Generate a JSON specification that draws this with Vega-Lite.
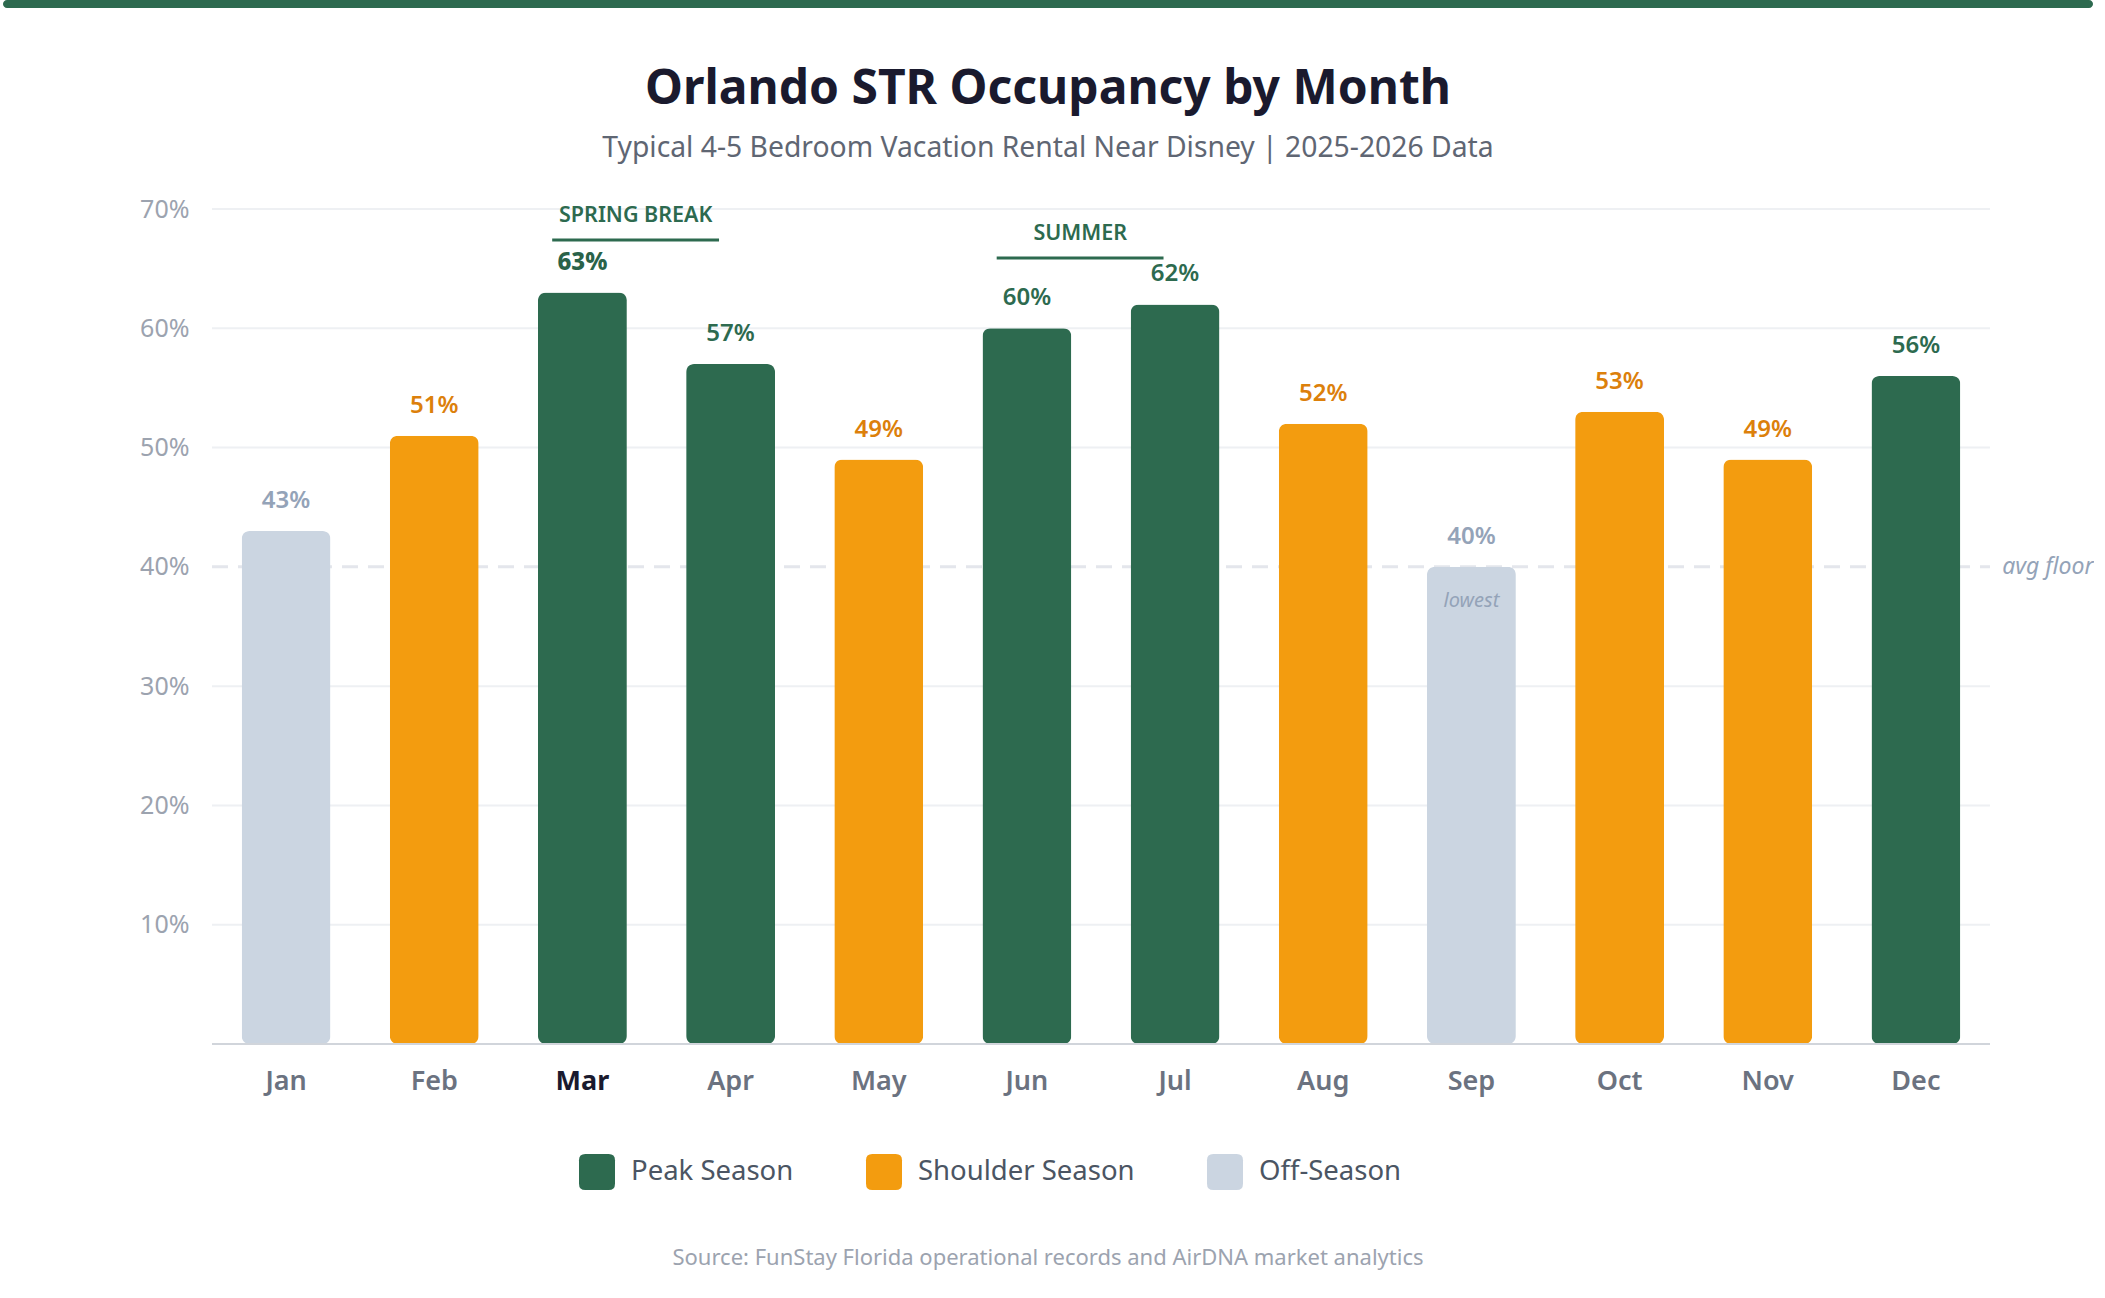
{
  "$schema": "https://vega.github.io/schema/vega-lite/v6.json",
  "padding": {"left": 3, "right": 0, "top": 0, "bottom": 30},
  "background": "white",
  "spacing": 57,
  "resolve": {"scale": {"color": "independent"}, "legend": {"color": "independent"}},
  "config": {
    "view": {"stroke": null},
    "font": "Noto Sans"
  },
  "vconcat": [
    {
      "width": 2090,
      "height": 8,
      "data": {"values": [{"part": "header band"}]},
      "mark": {"type": "rect", "color": "#2d6a4f", "cornerRadius": 4},
      "encoding": {}
    },
    {
      "width": 2090,
      "height": 835,
      "title": {
        "text": "Orlando STR Occupancy by Month",
        "subtitle": "Typical 4-5 Bedroom Vacation Rental Near Disney | 2025-2026 Data",
        "anchor": "middle",
        "frame": "group",
        "fontSize": 48,
        "fontWeight": 700,
        "color": "#1a1a2e",
        "subtitleFontSize": 28.3,
        "subtitleColor": "#5f6673",
        "subtitlePadding": 21,
        "offset": 35
      },
      "data": {
        "values": [
          {"month": "Jan", "occupancy": 43, "season": "Off-Season"},
          {"month": "Feb", "occupancy": 51, "season": "Shoulder Season"},
          {"month": "Mar", "occupancy": 63, "season": "Peak Season"},
          {"month": "Apr", "occupancy": 57, "season": "Peak Season"},
          {"month": "May", "occupancy": 49, "season": "Shoulder Season"},
          {"month": "Jun", "occupancy": 60, "season": "Peak Season"},
          {"month": "Jul", "occupancy": 62, "season": "Peak Season"},
          {"month": "Aug", "occupancy": 52, "season": "Shoulder Season"},
          {"month": "Sep", "occupancy": 40, "season": "Off-Season", "note": "lowest"},
          {"month": "Oct", "occupancy": 53, "season": "Shoulder Season"},
          {"month": "Nov", "occupancy": 49, "season": "Shoulder Season"},
          {"month": "Dec", "occupancy": 56, "season": "Peak Season"}
        ]
      },
      "transform": [{"calculate": "datum.occupancy + '%'", "as": "label"}],
      "encoding": {
        "x": {
          "field": "month",
          "type": "nominal",
          "sort": null,
          "scale": {
            "type": "band",
            "domain": ["Jan", "Feb", "Mar", "Apr", "May", "Jun", "Jul", "Aug", "Sep", "Oct", "Nov", "Dec"],
            "paddingInner": 0.4,
            "paddingOuter": 0.2,
            "range": [209, 1987]
          },
          "axis": {
            "title": null,
            "labelAngle": 0,
            "labelFontSize": 27,
            "labelFontWeight": {"condition": {"test": "datum.value === 'Mar'", "value": 700}, "value": 600},
            "labelColor": {"condition": {"test": "datum.value === 'Mar'", "value": "#1a1a2e"}, "value": "#6b7280"},
            "labelPadding": 24,
            "ticks": false,
            "domain": false
          }
        }
      },
      "layer": [
        {
          "data": {"values": [{"level": 10}, {"level": 20}, {"level": 30}, {"level": 50}, {"level": 60}, {"level": 70}]},
          "mark": {"type": "rule", "color": "#eef0f3", "strokeWidth": 2},
          "encoding": {
            "x": {"datum": "Jan", "bandPosition": -0.3333},
            "x2": {"datum": "Dec", "bandPosition": 1.3333},
            "y": {"field": "level", "type": "quantitative", "scale": {"domain": [0, 70], "nice": false}}
          }
        },
        {
          "data": {"values": [{"marker": "avg floor", "level": 40}]},
          "mark": {"type": "rule", "color": "#e4e6ec", "strokeWidth": 3, "strokeDash": [16, 10]},
          "encoding": {
            "x": {"datum": "Jan", "bandPosition": -0.3333},
            "x2": {"datum": "Dec", "bandPosition": 1.3333},
            "y": {"field": "level", "type": "quantitative"}
          }
        },
        {
          "mark": {"type": "bar", "cornerRadius": 8},
          "encoding": {
            "y": {
              "field": "occupancy",
              "type": "quantitative",
              "scale": {"domain": [0, 70], "nice": false},
              "axis": {
                "title": null,
                "values": [10, 20, 30, 40, 50, 60, 70],
                "labelExpr": "datum.value + '%'",
                "labelFontSize": 25,
                "labelColor": "#9ca3af",
                "labelPadding": 23,
                "ticks": false,
                "domain": false,
                "grid": false,
                "offset": -209
              }
            },
            "color": {
              "field": "season",
              "type": "nominal",
              "scale": {
                "domain": ["Peak Season", "Shoulder Season", "Off-Season"],
                "range": ["#2d6a4f", "#f39c0f", "#cbd5e1"]
              },
              "legend": {
                "title": null,
                "orient": "none",
                "direction": "horizontal",
                "legendX": 576,
                "legendY": 945,
                "symbolType": "M -0.65 -1 L 0.65 -1 Q 1 -1 1 -0.65 L 1 0.65 Q 1 1 0.65 1 L -0.65 1 Q -1 1 -1 0.65 L -1 -0.65 Q -1 -1 -0.65 -1 Z",
                "symbolSize": 1296,
                "symbolStrokeWidth": 0,
                "labelFontSize": 27.5,
                "labelColor": "#4b5563",
                "labelOffset": 16,
                "labelLimit": 400,
                "columnPadding": 72
              }
            }
          }
        },
        {
          "data": {"values": [{"baseline": 0}]},
          "mark": {"type": "rule", "color": "#d1d5db", "strokeWidth": 2},
          "encoding": {
            "x": {"datum": "Jan", "bandPosition": -0.3333},
            "x2": {"datum": "Dec", "bandPosition": 1.3333},
            "y": {"field": "baseline", "type": "quantitative"}
          }
        },
        {
          "transform": [{"filter": "datum.month !== 'Mar'"}],
          "mark": {"type": "text", "fontSize": 24, "fontWeight": 600, "baseline": "middle", "dy": -30},
          "encoding": {
            "y": {"field": "occupancy", "type": "quantitative"},
            "text": {"field": "label"},
            "color": {
              "condition": [
                {"test": "datum.season === 'Peak Season'", "value": "#2d6a4f"},
                {"test": "datum.season === 'Off-Season'", "value": "#94a3b8"}
              ],
              "value": "#dc800b"
            }
          }
        },
        {
          "transform": [{"filter": "datum.month === 'Mar'"}],
          "mark": {"type": "text", "fontSize": 24, "fontWeight": 800, "baseline": "middle", "dy": -30, "color": "#2a6249"},
          "encoding": {
            "y": {"field": "occupancy", "type": "quantitative"},
            "text": {"field": "label"}
          }
        },
        {
          "transform": [{"filter": "isValid(datum.note)"}],
          "mark": {"type": "text", "fontSize": 20, "fontStyle": "italic", "baseline": "middle", "dy": 34, "color": "#94a3b8"},
          "encoding": {
            "y": {"field": "occupancy", "type": "quantitative"},
            "text": {"field": "note"}
          }
        },
        {
          "data": {"values": [{"marker": "avg floor", "level": 40}]},
          "mark": {"type": "text", "fontSize": 23, "fontStyle": "italic", "align": "left", "baseline": "middle", "color": "#94a3b8"},
          "encoding": {
            "x": {"datum": "Dec", "bandPosition": 1.47},
            "y": {"field": "level", "type": "quantitative"},
            "text": {"field": "marker"}
          }
        },
        {
          "data": {"values": [{"period": "SPRING BREAK", "from": "Mar", "to": "Apr"}]},
          "mark": {"type": "rule", "color": "#2d6a4f", "strokeWidth": 3},
          "encoding": {
            "x": {"field": "from", "bandPosition": 0.16},
            "x2": {"field": "to", "bandPosition": 0.37},
            "y": {"datum": 67.4, "type": "quantitative"}
          }
        },
        {
          "data": {"values": [{"period": "SPRING BREAK", "from": "Mar", "to": "Apr"}]},
          "mark": {"type": "text", "color": "#2d6a4f", "fontSize": 21.5, "fontWeight": 600, "baseline": "middle"},
          "encoding": {
            "x": {"field": "from", "bandPosition": 1.1},
            "y": {"datum": 69.4, "type": "quantitative"},
            "text": {"field": "period"}
          }
        },
        {
          "data": {"values": [{"period": "SUMMER", "from": "Jun", "to": "Jul"}]},
          "mark": {"type": "rule", "color": "#2d6a4f", "strokeWidth": 3},
          "encoding": {
            "x": {"field": "from", "bandPosition": 0.16},
            "x2": {"field": "to", "bandPosition": 0.37},
            "y": {"datum": 65.9, "type": "quantitative"}
          }
        },
        {
          "data": {"values": [{"period": "SUMMER", "from": "Jun", "to": "Jul"}]},
          "mark": {"type": "text", "color": "#2d6a4f", "fontSize": 21.5, "fontWeight": 600, "baseline": "middle"},
          "encoding": {
            "x": {"field": "from", "bandPosition": 1.1},
            "y": {"datum": 67.9, "type": "quantitative"},
            "text": {"field": "period"}
          }
        }
      ]
    },
    {
      "width": 2090,
      "height": 20,
      "data": {"values": [{"source": "Source: FunStay Florida operational records and AirDNA market analytics"}]},
      "mark": {"type": "text", "fontSize": 22, "color": "#9ca3af", "baseline": "middle"},
      "encoding": {"text": {"field": "source"}}
    }
  ]
}
